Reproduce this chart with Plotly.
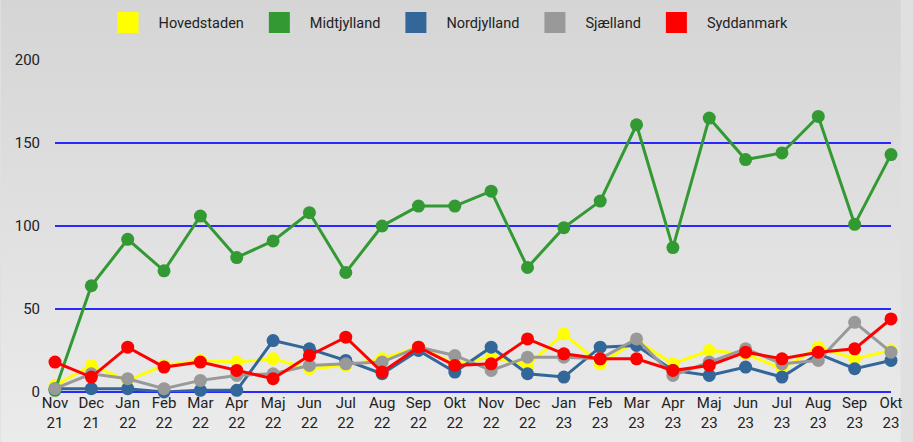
import plotly.graph_objects as go

months = ["Nov<br>21", "Dec<br>21", "Jan<br>22", "Feb<br>22", "Mar<br>22", "Apr<br>22",
          "Maj<br>22", "Jun<br>22", "Jul<br>22", "Aug<br>22", "Sep<br>22", "Okt<br>22",
          "Nov<br>22", "Dec<br>22", "Jan<br>23", "Feb<br>23", "Mar<br>23", "Apr<br>23",
          "Maj<br>23", "Jun<br>23", "Jul<br>23", "Aug<br>23", "Sep<br>23", "Okt<br>23"]

hovedstaden = [4, 16, 7, 16, 19, 18, 20, 14, 16, 20, 27, 17,
               21, 16, 35, 17, 31, 17, 25, 23, 14, 27, 20, 25]
midtjylland = [1, 64, 92, 73, 106, 81, 91, 108, 72, 100, 112, 112,
               121, 75, 99, 115, 161, 87, 165, 140, 144, 166, 101, 143]
nordjylland = [2, 2, 2, 0, 1, 1, 31, 26, 19, 11, 25, 12,
               27, 11, 9, 27, 28, 13, 10, 15, 9, 23, 14, 19]
sjaelland = [2, 11, 8, 2, 7, 10, 11, 16, 17, 18, 27, 22,
             13, 21, 21, 20, 32, 10, 18, 26, 17, 19, 42, 24]
syddanmark = [18, 9, 27, 15, 18, 13, 8, 22, 33, 12, 27, 16,
              17, 32, 23, 20, 20, 13, 16, 24, 20, 24, 26, 44]

series = [
    ("Hovedstaden", hovedstaden, "#ffff00"),
    ("Midtjylland", midtjylland, "#339933"),
    ("Nordjylland", nordjylland, "#336699"),
    ("Sjælland", sjaelland, "#999999"),
    ("Syddanmark", syddanmark, "#ff0000"),
]

W, H = 913, 442
ml, mr, mt, mb = 55, 10, 59, 50
pw, ph = W - ml - mr, H - mt - mb

fig = go.Figure()
for name, vals, color in series:
    fig.add_trace(go.Scatter(
        x=months, y=vals, name=name, mode="lines+markers",
        line=dict(color=color, width=3),
        marker=dict(color=color, size=13),
        showlegend=False, cliponaxis=False,
    ))
# legend swatches
for name, vals, color in series:
    fig.add_trace(go.Scatter(
        x=[None], y=[None], name=name, mode="markers",
        marker=dict(color=color, symbol="square", size=22,
                    line=dict(color=color, width=5)),
    ))

gradient = ("data:image/svg+xml;utf8,<svg xmlns='http://www.w3.org/2000/svg' "
            "width='10' height='10' preserveAspectRatio='none'>"
            "<defs><linearGradient id='g' x1='0' y1='0' x2='0' y2='1'>"
            "<stop offset='0' stop-color='%23d5d5d5'/>"
            "<stop offset='1' stop-color='%23ebebeb'/></linearGradient></defs>"
            "<rect width='10' height='10' fill='url(%23g)'/></svg>")

fig.update_layout(
    width=W, height=H,
    margin=dict(l=ml, r=mr, t=mt, b=mb),
    paper_bgcolor="#e0e0e0",
    plot_bgcolor="rgba(0,0,0,0)",
    font=dict(family="Roboto", size=15, color="#222222"),
    images=[dict(source=gradient, xref="paper", yref="paper",
                 x=-ml / pw, y=1 + mt / ph, sizex=W / pw, sizey=H / ph,
                 xanchor="left", yanchor="top", sizing="stretch",
                 layer="below")],
    legend=dict(orientation="h", xref="container", yref="container",
                x=0.488, xanchor="center", y=0.985, yanchor="top",
                itemwidth=51,
                font=dict(size=14.5, color="#222222"),
                bgcolor="rgba(0,0,0,0)"),
    xaxis=dict(type="category", range=[0, 23], showgrid=False,
               zeroline=False, showline=False, ticks="",
               tickfont=dict(size=15, color="#222222")),
    yaxis=dict(range=[0, 200.6], tickvals=[0, 50, 100, 150, 200],
               showgrid=True, gridcolor="#2828ff", gridwidth=1.5,
               zeroline=True, zerolinecolor="#2828ff", zerolinewidth=1.5,
               showline=False, ticks="", ticklabelstandoff=14,
               tickfont=dict(size=15, color="#222222")),
)

fig.write_html(
    "out.html",
    config={"displayModeBar": False},
    post_script="document.body.style.margin='0';document.body.style.overflow='hidden';",
)
